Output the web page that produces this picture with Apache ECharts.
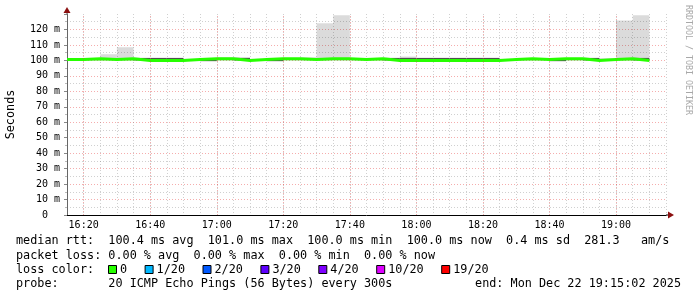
<!DOCTYPE html>
<html><head><meta charset="utf-8">
<script src="https://cdn.jsdelivr.net/npm/echarts@6/dist/echarts.min.js"></script>
<style>html,body{margin:0;padding:0;background:#fff}#c{width:697px;height:297px}</style>
</head><body><div id="c"></div>
<script>
// ---- data ----
const startMinute = 16 * 60 + 15;   // 16:15
const endMinute = 19 * 60 + 15;     // 19:15
const stepMinutes = 5;
const medianRtt = [100.5,101.0,100.5,101.0,100.0,100.0,100.0,100.5,101.0,101.0,100.0,100.5,101.0,101.0,100.5,101.0,101.0,100.5,101.0,100.0,100.0,100.0,100.0,100.0,100.0,100.0,100.5,101.0,100.5,101.0,101.0,100.0,100.5,101.0,100.0];
const smokeLow = [99.8,99.8,99.8,99.8,99.8,99.8,99.8,99.8,99.8,99.8,99.8,99.8,99.8,99.8,99.8,99.8,99.8,99.8,99.8,99.8,99.8,99.8,99.8,99.8,99.8,99.8,99.8,99.8,99.8,99.8,99.8,99.8,99.8,99.8,99.8];
const smokeHigh = [101.0,101.5,104.0,108.5,101.0,101.0,101.3,101.0,101.5,102.0,102.0,101.0,101.5,101.5,102.0,124.0,129.2,101.0,101.5,101.5,102.5,101.0,101.0,101.0,101.0,101.0,101.0,101.5,101.0,101.5,101.5,101.0,101.5,125.8,129.2];
const denseLow = [null,null,null,null,100.0,100.0,100.0,null,99.5,null,100.0,null,99.5,null,null,null,null,null,null,100.0,100.0,100.0,100.0,100.0,100.0,100.0,null,null,null,99.5,null,100.0,null,null,100.0];
const denseHigh = [null,null,null,null,101.6,101.6,101.6,null,101.0,null,101.6,null,101.0,null,null,null,null,null,null,101.6,101.6,101.6,101.6,101.6,101.6,101.6,null,null,null,101.0,null,101.6,null,null,101.6];
const xTickLabels = ['16:20','16:40','17:00','17:20','17:40','18:00','18:20','18:40','19:00'];
const yMax = 130;
const lossLabels = ['0','1/20','2/20','3/20','4/20','10/20','19/20'];
const lossColors = ['#26ff00','#00b8ff','#0059ff','#5e00ff','#7e00ff','#dd00ff','#ff0000'];
const statsRtt = 'median rtt:  100.4 ms avg  101.0 ms max  100.0 ms min  100.0 ms now  0.4 ms sd  281.3   am/s';
const statsLoss = 'packet loss: 0.00 % avg  0.00 % max  0.00 % min  0.00 % now';
const lossTitle = 'loss color:';
const probeText = 'probe:       20 ICMP Echo Pings (56 Bytes) every 300s';
const endText = 'end: Mon Dec 22 19:15:02 2025';
const yName = 'Seconds';
const watermark = 'RRDTOOL / TOBI OETIKER';

// ---- build ----
const pad = n => (n < 10 ? '0' : '') + n;
const hhmm = v => pad(Math.floor(v / 60)) + ':' + pad(v % 60);
const toMin = s => { const p = s.split(':'); return +p[0] * 60 + +p[1]; };
const stepStart = i => startMinute + i * stepMinutes;

const smokeData = medianRtt.map((_, i) => [stepStart(i), stepStart(i + 1), smokeLow[i], smokeHigh[i]]);
const denseData = [];
denseLow.forEach((v, i) => { if (v != null) denseData.push([stepStart(i), stepStart(i + 1), v, denseHigh[i]]); });
const medianData = medianRtt.map((v, i) => [stepStart(i), v]);
medianData.push([stepStart(medianRtt.length), medianRtt[medianRtt.length - 1]]);

function rectRenderer(fill) {
  return function (params, api) {
    const p0 = api.coord([api.value(0), api.value(3)]);
    const p1 = api.coord([api.value(1), api.value(2)]);
    return { type: 'rect', shape: { x: p0[0], y: p0[1], width: p1[0] - p0[0], height: p1[1] - p0[1] }, style: { fill: fill } };
  };
}

const mono = '"DejaVu Sans Mono", monospace';
const majorGrid = 'rgba(230,60,60,0.42)';
const minorGrid = 'rgba(120,120,120,0.35)';

const chart = echarts.init(document.getElementById('c'), null, { renderer: 'canvas' });
const option = {
  backgroundColor: '#ffffff',
  animation: false,
  grid: { left: 67, right: 31, top: 14, bottom: 82, containLabel: false, outerBoundsMode: 'none' },
  xAxis: {
    type: 'value', min: startMinute, max: endMinute, interval: stepMinutes,
    axisLine: { show: true, lineStyle: { color: '#000', width: 1 } },
    axisTick: { show: false },
    axisLabel: { fontFamily: mono, fontSize: 10, color: '#000', margin: 5,
      formatter: v => { const s = hhmm(v); return xTickLabels.indexOf(s) >= 0 ? s : ''; } },
    splitLine: { show: true, lineStyle: { color: minorGrid, type: [1, 2], width: 1 } }
  },
  yAxis: {
    type: 'value', min: 0, max: yMax, interval: 10,
    name: yName, nameLocation: 'middle', nameGap: 50,
    nameTextStyle: { fontFamily: mono, fontSize: 11.8, color: '#000' },
    axisLine: { show: true, lineStyle: { color: '#666', width: 1 } },
    axisTick: { show: true, length: 3, lineStyle: { color: '#888' } },
    minorTick: { show: true, splitNumber: 2, length: 2, lineStyle: { color: '#bbb' } },
    axisLabel: { fontFamily: mono, fontSize: 10, color: '#000', margin: 7, showMaxLabel: false,
      formatter: v => (v === 0 ? '0  ' : v + ' m') },
    splitLine: { show: true, showMaxLine: false, lineStyle: { color: majorGrid, type: [1, 2], width: 1 } },
    minorSplitLine: { show: true, lineStyle: { color: minorGrid, type: [1, 2], width: 1 } }
  },
  series: [
    {
      type: 'line', data: [[startMinute, null]], z: 1, symbol: 'none', silent: true,
      markLine: { silent: true, symbol: 'none', label: { show: false },
        lineStyle: { color: majorGrid, type: [1, 2], width: 1 },
        data: xTickLabels.map(s => ({ xAxis: toMin(s) })) }
    },
    { type: 'custom', z: 2, renderItem: rectRenderer('rgba(0,0,0,0.14)'), data: smokeData, encode: { x: [0, 1], y: [2, 3] }, silent: true },
    { type: 'custom', z: 3, renderItem: rectRenderer('#505050'), data: denseData, encode: { x: [0, 1], y: [2, 3] }, silent: true },
    { type: 'line', z: 4, step: 'end', data: medianData, symbol: 'none', silent: true,
      lineStyle: { color: lossColors[0], width: 3 } }
  ]
};
chart.setOption(option);

// ---- decorations: arrows, legend text ----
const axisOrigin = chart.convertToPixel({ gridIndex: 0 }, [endMinute, 0]);
const axisTop = chart.convertToPixel({ gridIndex: 0 }, [startMinute, yMax]);
const arrowColor = '#8b1010';
const textStyle = (t, x, y) => ({ type: 'text', x: x, y: y, silent: true,
  style: { text: t, fontFamily: mono, fontSize: 11.8, fill: '#000', align: 'left', verticalAlign: 'middle' } });

const g = [];
g.push({ type: 'line', silent: true, shape: { x1: axisOrigin[0], y1: axisOrigin[1], x2: axisOrigin[0] + 3, y2: axisOrigin[1] }, style: { stroke: '#000', lineWidth: 1 } });
g.push({ type: 'polygon', silent: true, shape: { points: [[axisOrigin[0] + 2, axisOrigin[1] - 3.5], [axisOrigin[0] + 8, axisOrigin[1]], [axisOrigin[0] + 2, axisOrigin[1] + 3.5]] }, style: { fill: arrowColor } });
g.push({ type: 'line', silent: true, shape: { x1: axisTop[0], y1: axisTop[1], x2: axisTop[0], y2: axisTop[1] - 2 }, style: { stroke: '#666', lineWidth: 1 } });
g.push({ type: 'polygon', silent: true, shape: { points: [[axisTop[0] - 3.5, axisTop[1] - 1], [axisTop[0], axisTop[1] - 7], [axisTop[0] + 3.5, axisTop[1] - 1]] }, style: { fill: arrowColor } });

const lx = 16;
g.push(textStyle(statsRtt, lx, 241));
g.push(textStyle(statsLoss, lx, 255.5));
g.push(textStyle(lossTitle, lx, 269.5));
g.push(textStyle(probeText, lx, 284));
g.push({ type: 'text', x: 681, y: 284, silent: true, style: { text: endText, fontFamily: mono, fontSize: 11.8, fill: '#000', align: 'right', verticalAlign: 'middle' } });

const charW = 7.1;
let bx = 108;
lossLabels.forEach((lab, i) => {
  g.push({ type: 'rect', silent: true, shape: { x: bx + 0.5, y: 265.5, width: 8, height: 8 }, style: { fill: lossColors[i], stroke: '#000', lineWidth: 1 } });
  g.push(textStyle(lab, bx + 12, 269.5));
  bx += 12 + lab.length * charW + 17.5;
});

g.push({ type: 'text', x: 688, y: 60, rotation: -Math.PI / 2, silent: true,
  style: { text: watermark, fontFamily: mono, fontSize: 8.3, fill: '#a8a8a8', align: 'center', verticalAlign: 'middle' } });

chart.setOption({ graphic: g });
</script>
</body></html>
